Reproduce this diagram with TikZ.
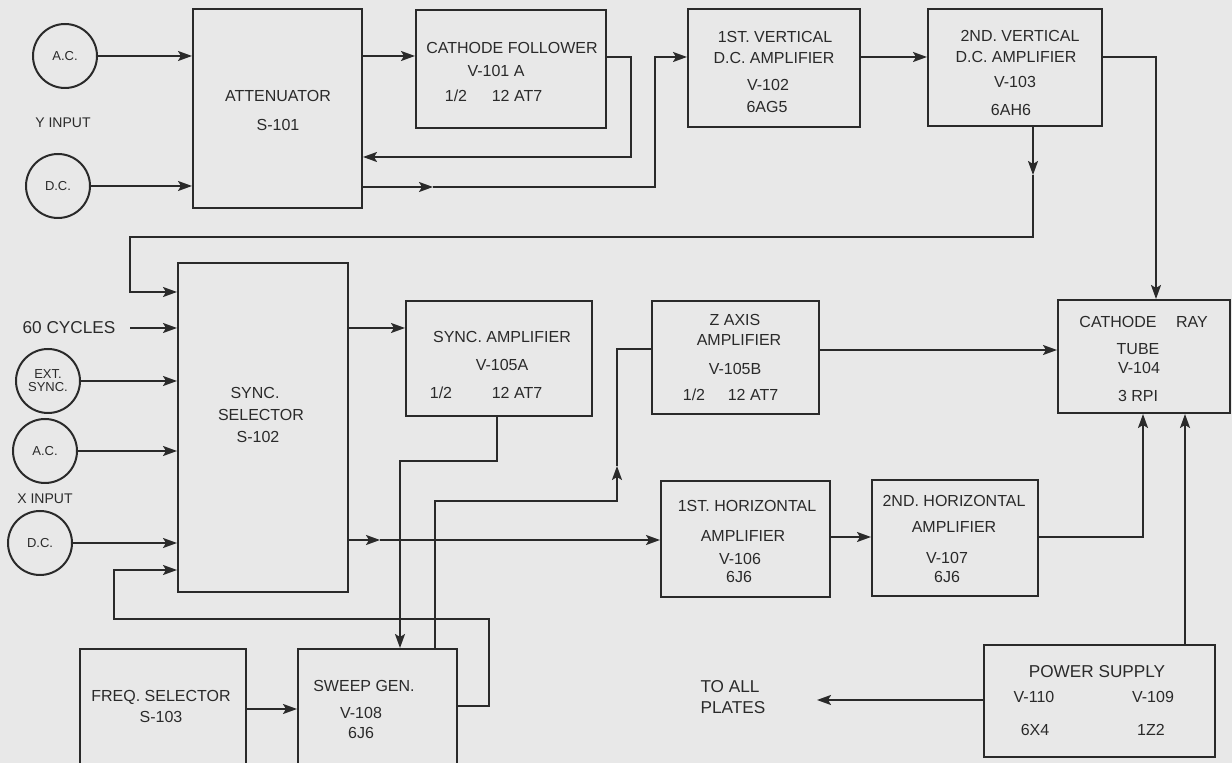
\documentclass[tikz,border=0pt]{standalone}
\usepackage{fontspec}
\setmainfont{Liberation Sans}
\usetikzlibrary{arrows.meta,fit}
\definecolor{bgc}{HTML}{E8E8E8}
\definecolor{ink}{HTML}{2A2A2A}
\newcommand{\lbltext}[4]{\node[lbl] (#1) at (#2,#3) {#4};}
\begin{document}
\begin{tikzpicture}[x=0.5pt,y=-0.5pt,color=ink,
  box/.style={draw=ink,line width=1pt,inner sep=0pt},
  circ/.style={draw=ink,line width=1pt,circle,minimum size=32pt,inner sep=0pt,align=center,font=\fontsize{6.5}{7.5}\selectfont},
  lbl/.style={inner sep=0pt,text height=5.7pt,text depth=0pt,font=\fontsize{8}{10}\selectfont},
  biglbl/.style={lbl,font=\fontsize{8.6}{10}\selectfont},
  wire/.style={draw=ink,line width=1pt},
  arr/.style={wire,-{Stealth[length=7pt,width=5pt,inset=1.5pt]}}]

\fill[bgc] (0,0) rectangle (1232,763);
\useasboundingbox (0,0) rectangle (1232,763);

% ---- boxes ----
\node[box,fit={(193,9)(362,208)}] (att) {};
\node[box,fit={(416,10)(606,128)}] (cf) {};
\node[box,fit={(688,9)(860,127)}] (v1) {};
\node[box,fit={(928,9)(1102,126)}] (v2) {};
\node[box,fit={(178,263)(348,592)}] (sel) {};
\node[box,fit={(406,301)(592,416)}] (samp) {};
\node[box,fit={(652,301)(819,414)}] (zax) {};
\node[box,fit={(1058,300)(1230,413)}] (crt) {};
\node[box,fit={(661,481)(830,597)}] (h1) {};
\node[box,fit={(872,480)(1038,596)}] (h2) {};
\node[box,fit={(984,645)(1215,757)}] (ps) {};
\node[box,fit={(80,649)(246,800)}] (fs) {};
\node[box,fit={(298,649)(457,800)}] (sw) {};

% ---- circles ----
\node[circ] (acY) at (65,56) {A.C.};
\node[circ] (dcY) at (58,186) {D.C.};
\node[circ] (ext) at (48,381) {EXT.\\[-1pt]SYNC.};
\node[circ] (acX) at (45,451) {A.C.};
\node[circ] (dcX) at (40,543) {D.C.};

% ---- texts ----
\lbltext{t1}{278}{96}{ATTENUATOR}
\lbltext{t2}{278}{125}{S-101}
\lbltext{t3}{512}{48}{CATHODE FOLLOWER}
\lbltext{t4}{496}{71}{V-101 A}
\lbltext{t5}{456}{96}{1/2}
\lbltext{t6}{517}{96}{12 AT7}
\lbltext{t7}{775}{37}{1ST. VERTICAL}
\lbltext{t8}{774}{58}{D.C. AMPLIFIER}
\lbltext{t9}{768}{85}{V-102}
\lbltext{t10}{767}{107}{6AG5}
\lbltext{t11}{1020}{36}{2ND. VERTICAL}
\lbltext{t12}{1016}{57}{D.C. AMPLIFIER}
\lbltext{t13}{1015}{82}{V-103}
\lbltext{t14}{1011}{110}{6AH6}
\lbltext{t15}{255}{393}{SYNC.}
\lbltext{t16}{261}{415}{SELECTOR}
\lbltext{t17}{258}{437}{S-102}
\lbltext{t18}{502}{337}{SYNC. AMPLIFIER}
\lbltext{t19}{502}{365}{V-105A}
\lbltext{t20}{441}{393}{1/2}
\lbltext{t21}{517}{393}{12 AT7}
\lbltext{t22}{735}{320}{Z AXIS}
\lbltext{t23}{739}{340}{AMPLIFIER}
\lbltext{t24}{735}{369}{V-105B}
\lbltext{t25}{694}{395}{1/2}
\lbltext{t26}{753}{395}{12 AT7}
\lbltext{t27}{1118}{322}{CATHODE}
\lbltext{t28}{1192}{322}{RAY}
\lbltext{t29}{1138}{349}{TUBE}
\lbltext{t30}{1139}{368}{V-104}
\lbltext{t31}{1138}{396}{3 RPI}
\lbltext{t32}{747}{506}{1ST. HORIZONTAL}
\lbltext{t33}{743}{536}{AMPLIFIER}
\lbltext{t34}{740}{559}{V-106}
\lbltext{t35}{739}{577}{6J6}
\lbltext{t36}{954}{501}{2ND. HORIZONTAL}
\lbltext{t37}{954}{527}{AMPLIFIER}
\lbltext{t38}{947}{558}{V-107}
\lbltext{t39}{947}{577}{6J6}
\node[biglbl] (t40) at (1097,672) {POWER SUPPLY};
\lbltext{t41}{1034}{697}{V-110}
\lbltext{t42}{1153}{697}{V-109}
\lbltext{t43}{1035}{730}{6X4}
\lbltext{t44}{1151}{730}{1Z2}
\lbltext{t45}{161}{696}{FREQ. SELECTOR}
\lbltext{t46}{161}{717}{S-103}
\lbltext{t47}{364}{686}{SWEEP GEN.}
\lbltext{t48}{361}{713}{V-108}
\lbltext{t49}{361}{733}{6J6}
\node[lbl,font=\fontsize{7}{9}\selectfont] (yin) at (63,122) {Y INPUT};
\node[lbl,font=\fontsize{7}{9}\selectfont] (xin) at (45,498) {X INPUT};
\node[biglbl] (cyc) at (69,328) {60 CYCLES};
\node[biglbl] (pl1) at (730,687) {TO ALL};
\node[biglbl] (pl2) at (733,708) {PLATES};

% ---- coordinates ----
\coordinate (m1) at (433,187);
\coordinate (m2) at (1033,175);
\coordinate (m3) at (380,540);
\coordinate (m4) at (617,466);
\coordinate (tip) at (817,700);

% ---- connectors ----
\draw[arr] (acY.east) -- (acY.east -| att.west);
\draw[arr] (dcY.east) -- (dcY.east -| att.west);
\draw[arr] (att.east |- acY.east) -- (cf.west |- acY.east);
\draw[arr] (cf.east |- 0,57) -- (631,57) -- (631,157) -- (att.east |- 0,157);
\draw[arr] (att.east |- m1) -- (m1);
\draw[arr] (m1) -- (655,187) -- (655,57) -- (v1.west |- 0,57);
\draw[arr] (v1.east |- 0,57) -- (v2.west |- 0,57);
\draw[arr] (v2.east |- 0,57) -- (1156,57) -- (1156,0 |- crt.north);
\draw[arr] (m2 |- v2.south) -- (m2);
\draw[arr] (m2) -- (1033,237) -- (130,237) -- (130,292) -- (sel.west |- 0,292);
\draw[arr] (130,328) -- (cyc.east -| sel.west);
\draw[arr] (ext.east) -- (ext.east -| sel.west);
\draw[arr] (acX.east) -- (acX.east -| sel.west);
\draw[arr] (dcX.east) -- (dcX.east -| sel.west);
\draw[arr] (sw.east |- 0,706) -- (489,706) -- (489,619) -- (114,619) -- (114,570) -- (sel.west |- 0,570);
\draw[arr] (sel.east |- 0,328) -- (samp.west |- 0,328);
\draw[arr] (497,0 |- samp.south) -- (497,461) -- (400,461) -- (400,0 |- sw.north);
\draw[arr] (sel.east |- m3) -- (m3);
\draw[arr] (m3) -- (m3 -| h1.west);
\draw[arr] (435,0 |- sw.north) -- (435,501) -- (617,501) -- (m4);
\draw[wire] (m4) -- (617,349) -- (zax.west |- 0,349);
\draw[arr] (zax.east |- 0,350) -- (crt.west |- 0,350);
\draw[arr] (h1.east |- 0,537) -- (h2.west |- 0,537);
\draw[arr] (h2.east |- 0,537) -- (1143,537) -- (1143,0 |- crt.south);
\draw[arr] (1185,0 |- ps.north) -- (1185,0 |- crt.south);
\draw[arr] (ps.west |- tip) -- (tip);
\draw[arr] (fs.east |- 0,709) -- (sw.west |- 0,709);
\end{tikzpicture}
\end{document}
